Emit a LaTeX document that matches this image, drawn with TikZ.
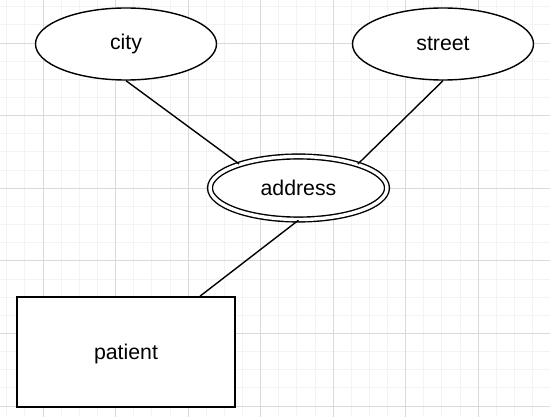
\documentclass[tikz,border=0pt]{standalone}
\usepackage{fontspec}
\setmainfont{Liberation Sans}
\usetikzlibrary{shapes.geometric}
\definecolor{minorgrid}{HTML}{F3F3F3}
\definecolor{majorgrid}{HTML}{DADADA}
\tikzset{
  attr/.style={ellipse, draw, line width=1.4pt, inner sep=0pt, minimum width=181pt, minimum height=72pt, font=\fontsize{21.3}{25}\selectfont},
  mvattr/.style={ellipse, draw, double, double distance=3.4pt, line width=1.4pt, inner sep=0pt, minimum width=177pt, minimum height=63pt, font=\fontsize{21.3}{25}\selectfont},
  entity/.style={rectangle, draw, line width=1.6pt, inner sep=0pt, minimum width=218pt, minimum height=110pt, font=\fontsize{21.3}{25}\selectfont},
  link/.style={line width=1.4pt},
  gridline/.style={line width=0.8pt}
}
\begin{document}
\begin{tikzpicture}[x=1pt, y=-1pt]
  \useasboundingbox (0,0) rectangle (550,417);
  \fill[white] (0,0) rectangle (550,417);
  % grid
  \foreach \i in {-3,...,28} {
    \pgfmathsetmacro{\gx}{43+18.13*\i}
    \draw[minorgrid, gridline] (\gx,0) -- (\gx,417);
  }
  \foreach \i in {-3,...,21} {
    \pgfmathsetmacro{\gy}{43+18.15*\i}
    \draw[minorgrid, gridline] (0,\gy) -- (550,\gy);
  }
  \foreach \i in {0,...,7} {
    \pgfmathsetmacro{\gx}{43+72.5*\i}
    \draw[majorgrid, gridline] (\gx,0) -- (\gx,417);
  }
  \foreach \i in {0,...,5} {
    \pgfmathsetmacro{\gy}{43+72.6*\i}
    \draw[majorgrid, gridline] (0,\gy) -- (550,\gy);
  }
  % shapes
  \node[attr, fill=white] (city) at (126,44) {city};
  \node[attr, fill=white] (street) at (443,44) {street};
  \node[mvattr, fill=white] (addr) at (298.5,188) {address};
  \node[entity, fill=white, text depth=0pt] (patient) at (126,352) {patient};
  % connectors
  \draw[link] (city.south) -- (addr.158);
  \draw[link] (street.south) -- (addr.22);
  \draw[link] (addr.south) -- ([xshift=74pt]patient.north);
\end{tikzpicture}
\end{document}
